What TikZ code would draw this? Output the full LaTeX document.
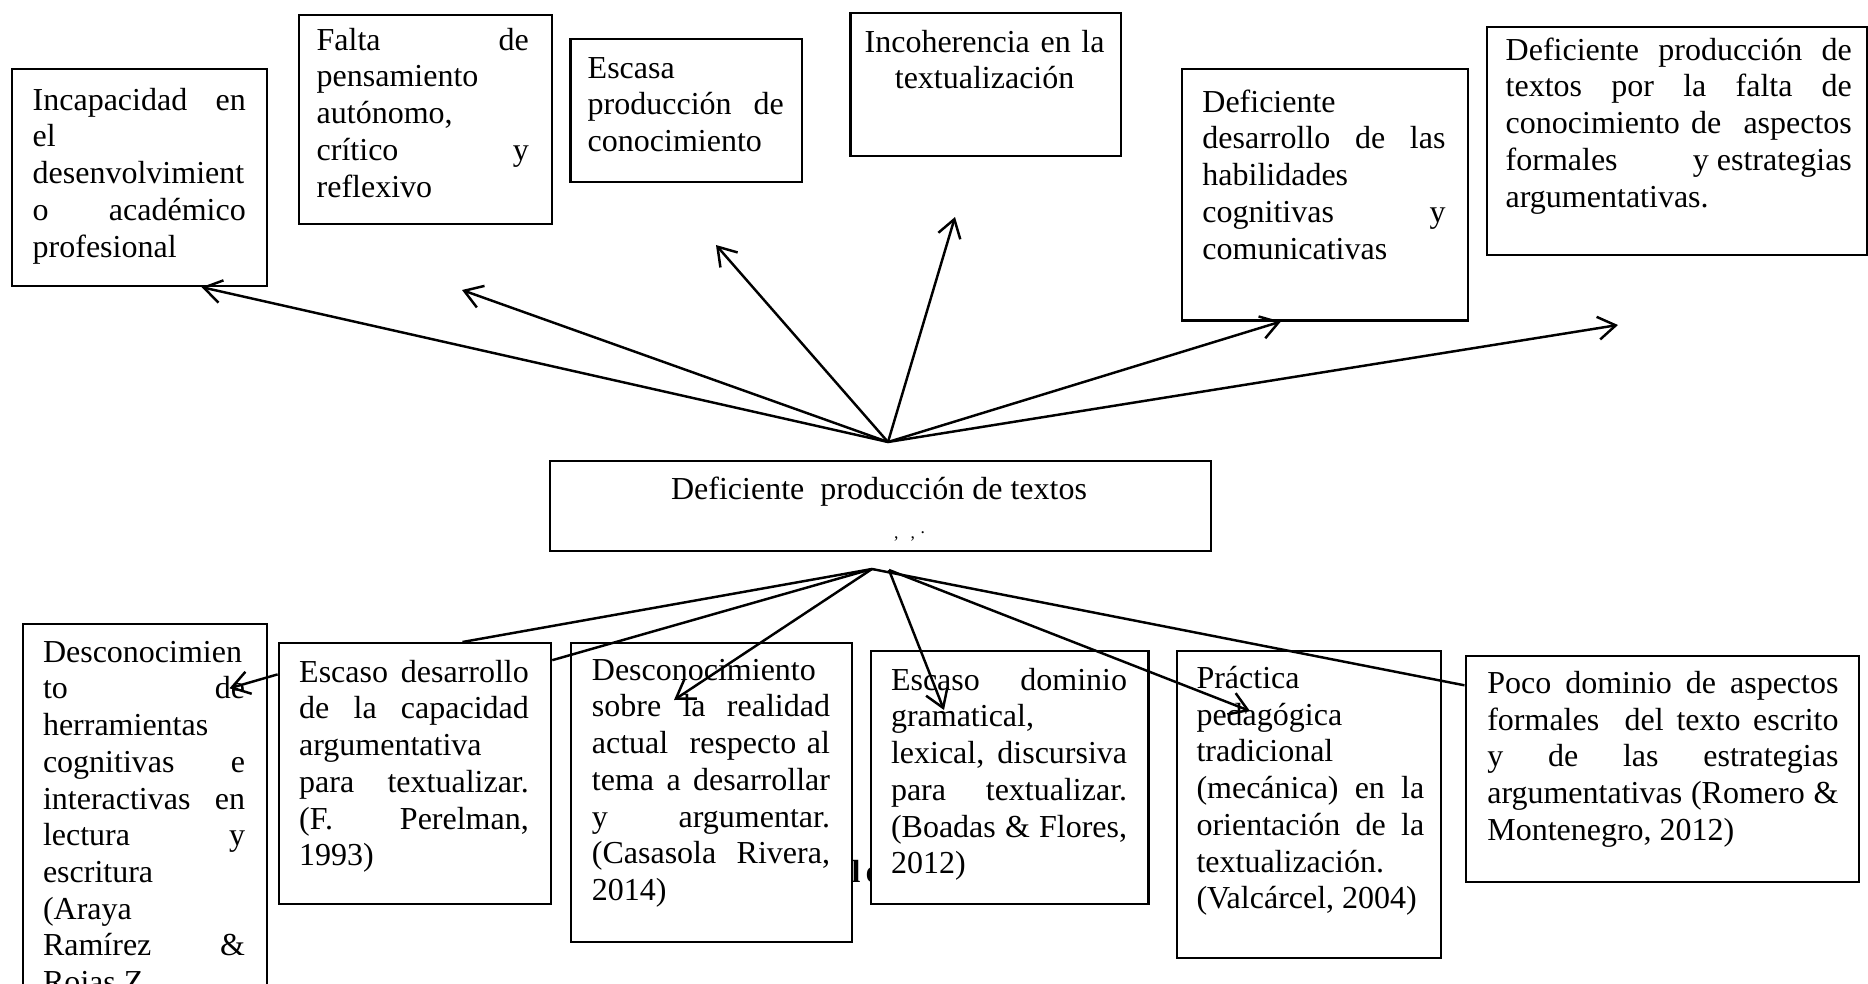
\documentclass[tikz,border=0pt]{standalone}
\usepackage{fontspec}
\setmainfont{Liberation Serif}
\usepackage{tikz}
\usetikzlibrary{arrows.meta,calc}
\hyphenpenalty=10000
\exhyphenpenalty=10000

\begin{document}
\begin{tikzpicture}[x=0.01cm, y=-0.01cm,
    every node/.style={font=\fontsize{9.1pt}{10.45pt}\selectfont},
    caja/.style={draw, fill=white, line width=0.6pt, anchor=north west, inner sep=0pt},
    texto/.style={anchor=base west, inner sep=0pt, align=justify},
    flecha/.style={line width=0.7pt, -{Straight Barb[length=5pt,width=6.5pt]}},
    linea/.style={line width=0.7pt}]
    \useasboundingbox (0,0) rectangle (1868,984);
    \fill[white] (0,0) rectangle (1868,984);
    \clip (0,0) rectangle (1868,984);

    % Hidden title behind the boxes
    \node[anchor=base west, inner sep=0pt, font=\fontsize{9.1pt}{10.45pt}\bfseries] (frag) at (851,882) {l\,e};

    % Effects (top)
    \node[caja, minimum width=2.55cm, minimum height=2.17cm] (incap) at (10.7,67.9) {};
    \node[texto, text width=2.13cm] (incap-t) at (32,110)
        {Incapacidad~en\linebreak el\linebreak desenvolvimient\linebreak o~académico\linebreak profesional};
    \node[caja, minimum width=2.526cm, minimum height=2.085cm] (falta) at (297.8,14.3) {};
    \node[texto, text width=2.12cm] (falta-t) at (316,50)
        {Falta~de\linebreak pensamiento\linebreak autónomo,\linebreak crítico~y\linebreak reflexivo};
    \node[caja, minimum width=2.312cm, minimum height=1.43cm] (escasa) at (569.4,38.1) {};
    \node[texto, text width=1.96cm] (escasa-t) at (587,78)
        {Escasa\linebreak producción~de\linebreak conocimiento};
    \node[caja, minimum width=2.704cm, minimum height=1.43cm] (incoh) at (849.4,11.9) {};
    \node[anchor=base, inner sep=0pt, text width=2.6cm, align=center] (incoh-t) at (984.6,52)
        {Incoherencia en la\\textualización};
    \node[caja, minimum width=2.859cm, minimum height=2.514cm] (desarr) at (1180.6,67.9) {};
    \node[texto, text width=2.43cm] (desarr-t) at (1201.7,112)
        {Deficiente\linebreak desarrollo~de~las\linebreak habilidades\linebreak cognitivas~y\linebreak comunicativas};
    \node[caja, minimum width=3.801cm, minimum height=2.275cm] (defprod) at (1485.5,26.2) {};
    \node[texto, text width=3.46cm] (defprod-t) at (1505,60)
        {Deficiente~producción~de\linebreak textos~por~la~falta~de\linebreak conocimiento~de~~aspectos\linebreak formales~\nobreak\hfill y~estrategias\linebreak argumentativas.};

    % Problem
    \node[caja, minimum width=6.6cm, minimum height=0.896cm] (centro) at (549.2,460) {};
    \node[anchor=base, inner sep=0pt] (centro-t) at (879,499) {Deficiente~~producción de textos};
    \node[anchor=base, inner sep=0pt, font=\tiny] (centro-m) at (910,538) {,\hspace{1.2mm},\hspace{0.5mm}·};

    % Causes (bottom)
    \node[caja, minimum width=2.44cm, minimum height=4cm] (descon) at (21.7,622.7) {};
    \node[texto, text width=2.02cm] (descon-t) at (42.3,662)
        {Desconocimien\linebreak to~de\linebreak herramientas\linebreak cognitivas~e\linebreak interactivas~en\linebreak lectura~y\linebreak escritura\linebreak (Araya\linebreak Ramírez~\&\linebreak Rojas~Z.};
    \node[caja, minimum width=2.724cm, minimum height=2.61cm] (escdes) at (277.6,642) {};
    \node[texto, text width=2.295cm] (escdes-t) at (298.5,682)
        {Escaso~desarrollo\linebreak de~la~capacidad\linebreak argumentativa\linebreak para~textualizar.\linebreak (F.~Perelman,\linebreak 1993)};
    \node[caja, minimum width=2.808cm, minimum height=2.99cm] (desreal) at (569.6,642) {};
    \node[texto, text width=2.38cm] (desreal-t) at (591.2,680)
        {Desconocimiento\linebreak sobre~la~realidad\linebreak actual~~respecto~al\linebreak tema~a~desarrollar\linebreak y~argumentar.\linebreak (Casasola~Rivera,\linebreak 2014)};
    \node[caja, minimum width=2.778cm, minimum height=2.527cm] (escdom) at (869.5,650.2) {};
    \node[texto, text width=2.36cm] (escdom-t) at (890.3,690)
        {Escaso~dominio\linebreak gramatical,\linebreak lexical,~discursiva\linebreak para~textualizar.\linebreak (Boadas~\&~Flores,\linebreak 2012)};
    \node[caja, minimum width=2.64cm, minimum height=3.064cm] (practica) at (1175.5,650.2) {};
    \node[texto, text width=2.276cm] (practica-t) at (1195.8,688.3)
        {Práctica\linebreak pedagógica\linebreak tradicional\linebreak (mecánica)~en~la\linebreak orientación~de~la\linebreak textualización.\linebreak (Valcárcel,~2004)};
    \node[caja, minimum width=3.935cm, minimum height=2.26cm] (poco) at (1464.5,654.5) {};
    \node[texto, text width=3.51cm] (poco-t) at (1486.6,693.3)
        {Poco~dominio~de~aspectos\linebreak formales~~del~texto~escrito\linebreak y~de~las~estrategias\linebreak argumentativas~(Romero~\&\linebreak Montenegro, 2012)};

    % Arrow ends
    \coordinate (arriba) at (888,442);
    \coordinate (abajoI) at (872,569);
    \coordinate (abajoD) at (889,570);
    \coordinate (pB) at (462,290);
    \coordinate (pC) at (716,245);
    \coordinate (pD) at (955,217);
    \coordinate (pF) at (1618,325);
    \coordinate (tG) at (229.5,688.3);
    \coordinate (tI) at (674,700);
    \coordinate (tJ) at (944,710);
    \coordinate (tK) at (1250,711);

    % Arrows
    \draw[flecha] (arriba) -- ($(incap.south west)!0.742!(incap.south east)$);
    \draw[flecha] (arriba) -- (pB);
    \draw[flecha] (arriba) -- (pC);
    \draw[flecha] (arriba) -- (pD);
    \draw[flecha] (arriba) -- ($(desarr.south west)!0.348!(desarr.south east)$);
    \draw[flecha] (arriba) -- (pF);

    \draw[linea] (abajoI) -- ($(escdes.north west)!0.673!(escdes.north east)$);
    \draw[linea] (abajoI) -- ($(escdes.north east)!0.069!(escdes.south east)$);
    \draw[flecha] ($(escdes.north west)!0.123!(escdes.south west)$) -- (tG);
    \draw[flecha] (abajoI) -- (tI);
    \draw[linea] (abajoI) -- ($(poco.north west)!0.135!(poco.south west)$);
    \draw[flecha] (abajoD) -- (tJ);
    \draw[flecha] (abajoD) -- (tK);
\end{tikzpicture}
\end{document}
